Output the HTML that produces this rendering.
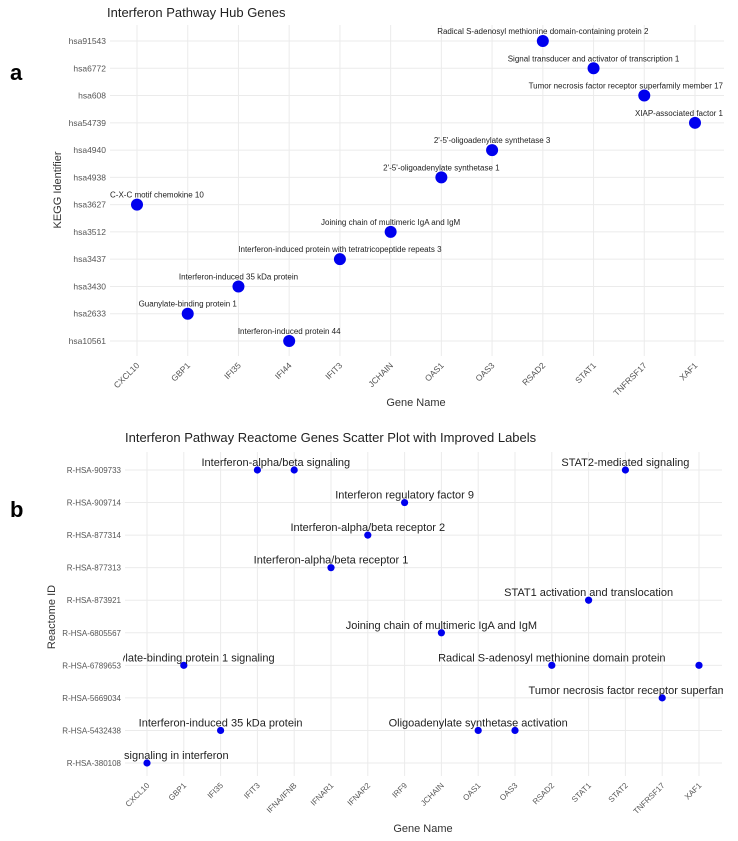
<!DOCTYPE html>
<html><head><meta charset="utf-8"><style>
body{margin:0;background:#fff;}
svg{display:block;font-family:"Liberation Sans","DejaVu Sans",sans-serif;}
</style></head><body>
<svg id="chart" width="738" height="841" xmlns="http://www.w3.org/2000/svg">
<defs><clipPath id="clipB"><rect x="123" y="450" width="600" height="330"/></clipPath></defs>
<text x="107" y="17" font-size="13" fill="#222">Interferon Pathway Hub Genes</text>
<text x="10" y="80" font-size="22" font-weight="bold" fill="#000">a</text>
<text x="416" y="406" font-size="11" fill="#333" text-anchor="middle">Gene Name</text>
<text transform="translate(61,190) rotate(-90)" font-size="11" fill="#333" text-anchor="middle">KEGG Identifier</text>
<text x="125" y="442" font-size="13" fill="#222">Interferon Pathway Reactome Genes Scatter Plot with Improved Labels</text>
<text x="10" y="517" font-size="22" font-weight="bold" fill="#000">b</text>
<text x="423" y="832" font-size="11" fill="#333" text-anchor="middle">Gene Name</text>
<text transform="translate(55,617) rotate(-90)" font-size="11" fill="#333" text-anchor="middle">Reactome ID</text>
<g id="gA"></g><g id="gB"></g>
</svg>
<script>
const NS="http://www.w3.org/2000/svg";
// Panel A data
const genesA=["CXCL10","GBP1","IFI35","IFI44","IFIT3","JCHAIN","OAS1","OAS3","RSAD2","STAT1","TNFRSF17","XAF1"];
const idsA=["hsa10561","hsa2633","hsa3430","hsa3437","hsa3512","hsa3627","hsa4938","hsa4940","hsa54739","hsa608","hsa6772","hsa91543"];
const pointGenesA=["CXCL10","GBP1","IFI35","IFI44","IFIT3","JCHAIN","OAS1","OAS3","RSAD2","STAT1","TNFRSF17","XAF1"];
const pointIdsA=["hsa3627","hsa2633","hsa3430","hsa10561","hsa3437","hsa3512","hsa4938","hsa4940","hsa91543","hsa6772","hsa608","hsa54739"];
const labelsA=["C-X-C motif chemokine 10","Guanylate-binding protein 1","Interferon-induced 35 kDa protein","Interferon-induced protein 44","Interferon-induced protein with tetratricopeptide repeats 3","Joining chain of multimeric IgA and IgM","2'-5'-oligoadenylate synthetase 1","2'-5'-oligoadenylate synthetase 3","Radical S-adenosyl methionine domain-containing protein 2","Signal transducer and activator of transcription 1","Tumor necrosis factor receptor superfamily member 17","XIAP-associated factor 1"];
// Panel B data
const genesB=["CXCL10","GBP1","IFI35","IFIT3","IFNA/IFNB","IFNAR1","IFNAR2","IRF9","JCHAIN","OAS1","OAS3","RSAD2","STAT1","STAT2","TNFRSF17","XAF1"];
const idsB=["R-HSA-380108","R-HSA-5432438","R-HSA-5669034","R-HSA-6789653","R-HSA-6805567","R-HSA-873921","R-HSA-877313","R-HSA-877314","R-HSA-909714","R-HSA-909733"];
const pointGenesB=["CXCL10","GBP1","IFI35","IFIT3","IFNA/IFNB","IFNAR1","IFNAR2","IRF9","JCHAIN","OAS1","OAS3","RSAD2","STAT1","STAT2","TNFRSF17","XAF1"];
const pointIdsB=["R-HSA-380108","R-HSA-6789653","R-HSA-5432438","R-HSA-909733","R-HSA-909733","R-HSA-877313","R-HSA-877314","R-HSA-909714","R-HSA-6805567","R-HSA-5432438","R-HSA-5432438","R-HSA-6789653","R-HSA-873921","R-HSA-909733","R-HSA-5669034","R-HSA-6789653"];
const labelTextB=["Chemokine signaling in interferon","Guanylate-binding protein 1 signaling","Interferon-induced 35 kDa protein","Interferon-alpha/beta signaling","Interferon-alpha/beta receptor 1","Interferon-alpha/beta receptor 2","Interferon regulatory factor 9","Joining chain of multimeric IgA and IgM","Oligoadenylate synthetase activation","Radical S-adenosyl methionine domain protein","STAT1 activation and translocation","STAT2-mediated signaling","Tumor necrosis factor receptor superfamily member 17"];
const labelGenesB=[["CXCL10"],["GBP1"],["IFI35"],["IFIT3","IFNA/IFNB"],["IFNAR1"],["IFNAR2"],["IRF9"],["JCHAIN"],["OAS1"],["RSAD2"],["STAT1"],["STAT2"],["TNFRSF17"]];
const labelIdsB=["R-HSA-380108","R-HSA-6789653","R-HSA-5432438","R-HSA-909733","R-HSA-877313","R-HSA-877314","R-HSA-909714","R-HSA-6805567","R-HSA-5432438","R-HSA-6789653","R-HSA-873921","R-HSA-909733","R-HSA-5669034"];

function mk(p,tag,attrs,txt){const e=document.createElementNS(NS,tag);for(const k in attrs)e.setAttribute(k,attrs[k]);if(txt!==undefined)e.textContent=txt;p.appendChild(e);return e;}
function band(cats,a,b){return c=>a+cats.indexOf(c)*(b-a)/(cats.length-1);}

function panel(g,o){
  const xs=band(o.genes,o.x0,o.x1), ys=band(o.ids,o.yBottom,o.yTop);
  o.genes.forEach(c=>{
    const l=mk(g,"line",{x1:xs(c),x2:xs(c),y1:o.top,y2:o.bottom,stroke:"#ebebeb","stroke-width":1});
    
    
    const t=mk(g,"text",{transform:`translate(${xs(c)+3},${o.bottom+10}) rotate(-45)`,"font-size":o.tick,fill:"#555","text-anchor":"end"},c);
    
    
  });
  o.ids.forEach(c=>{
    const l=mk(g,"line",{x1:o.left,x2:o.right,y1:ys(c),y2:ys(c),stroke:"#ebebeb","stroke-width":1});
    
    
    const t=mk(g,"text",{x:o.left-4,y:ys(c)+3,"font-size":o.tick,fill:"#555","text-anchor":"end"},c);
    
    
  });
  return {xs,ys};
}

const gA=document.getElementById("gA");
const A=panel(gA,{genes:genesA,ids:idsA,x0:137,x1:695,yBottom:341,yTop:41,top:25,bottom:356,left:110,right:724,tick:8.5});
pointGenesA.forEach((g,i)=>{
  const c=mk(gA,"circle",{cx:A.xs(g),cy:A.ys(pointIdsA[i]),r:6,fill:"#0000ee"});
  
  
});
pointGenesA.forEach((g,i)=>{
  const t=mk(gA,"text",{x:A.xs(g),y:A.ys(pointIdsA[i])-7,"font-size":8,fill:"#222","text-anchor":"middle"},labelsA[i]);
  
  
  const w=t.getComputedTextLength(),x=A.xs(g);
  if(x+w/2>723)t.setAttribute("x",723-w/2);
  if(x-w/2<110)t.setAttribute("x",110+w/2);
});

const gB=document.getElementById("gB");
const B=panel(gB,{genes:genesB,ids:idsB,x0:147,x1:699,yBottom:763,yTop:470,top:452,bottom:776,left:125,right:722,tick:8});
pointGenesB.forEach((g,i)=>{
  const c=mk(gB,"circle",{cx:B.xs(g),cy:B.ys(pointIdsB[i]),r:3.6,fill:"#0000ee"});
  
  
});
const lg=mk(gB,"g",{"clip-path":"url(#clipB)"});
labelTextB.forEach((s,i)=>{
  const xm=labelGenesB[i].reduce((a,g)=>a+B.xs(g),0)/labelGenesB[i].length;
  const t=mk(lg,"text",{x:xm,y:B.ys(labelIdsB[i])-4,"font-size":11,fill:"#222","text-anchor":"middle"},s);
  
  
});
</script>
</body></html>
